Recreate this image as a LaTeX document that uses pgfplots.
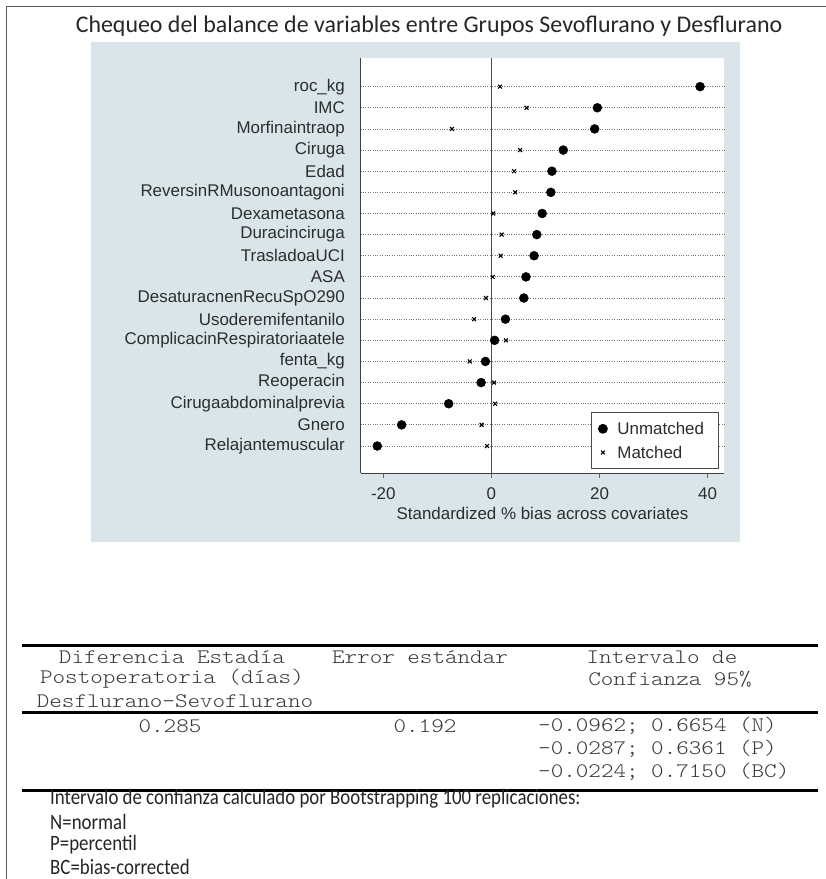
\documentclass[border=0pt]{standalone}
\usepackage{pgfplots}
\pgfplotsset{compat=1.18}
\usepackage{pgfplotstable}
\usepackage{fontspec}
\setmainfont{Liberation Sans}
\newfontfamily\carl{Carlito}
\newfontfamily\carlnarrow{Carlito}[FakeStretch=0.86]
\newfontfamily\cour{lmmonolt10-regular.otf}[FakeStretch=1.16]
\definecolor{panel}{RGB}{217,229,232}
\definecolor{txt}{RGB}{45,45,45}
\definecolor{tabtxt}{RGB}{55,55,55}

\pgfplotstableread{
k um m
1 -21.1 -0.8
2 -16.6 -1.8
3 -7.9 0.7
4 -1.9 0.5
5 -1.1 -4.0
6 0.6 2.7
7 2.6 -3.2
8 6.0 -1.0
9 6.4 0.25
10 7.9 1.7
11 8.4 1.9
12 9.4 0.35
13 11.0 4.4
14 11.2 4.2
15 13.3 5.3
16 19.1 -7.3
17 19.6 6.5
18 38.6 1.6
}\bal

\begin{document}
\begin{tikzpicture}
\useasboundingbox (0,0) rectangle (826bp,-879bp);
\fill[white] (0,0) rectangle (826bp,-879bp);
\draw[black!65, line width=1bp] (6bp,-879bp) -- (6bp,-6bp) -- (826bp,-6bp);
\node[font=\carl\fontsize{24}{28}\selectfont, text=black!85, anchor=base, inner sep=0pt] at (429bp,-32bp) {Chequeo del balance de variables entre Grupos Sevoflurano y Desflurano};
\fill[panel] (91bp,-42bp) rectangle (740bp,-542bp);
\begin{axis}[
  at={(360.7bp,-473.3bp)}, anchor=south west,
  scale only axis, width=363.6bp, height=415bp,
  xmin=-24.17, xmax=43.08, ymin=-0.291, ymax=19.34,
  axis background/.style={fill=white},
  axis x line*=bottom, axis y line*=left,
  axis line style={black!75, line width=0.8bp},
  xtick={-20,0,20,40},
  /pgf/number format/assume math mode=true,
  x tick label style={font=\fontsize{17}{20}\selectfont, text=txt, inner sep=0pt, yshift=-8.7bp},
  xtick style={black!60, line width=0.8bp},
  major tick length=5bp, tick align=outside,
  ytick={1,...,18},
  yticklabels={Relajantemuscular, Gnero, Cirugaabdominalprevia, Reoperacin, fenta\_kg, ComplicacinRespiratoriaatele, Usoderemifentanilo, DesaturacnenRecuSpO290, ASA, TrasladoaUCI, Duracinciruga, Dexametasona, ReversinRMusonoantagoni, Edad, Ciruga, Morfinaintraop, IMC, roc\_kg},
  y tick label style={font=\fontsize{17}{20}\selectfont, text=txt, inner sep=0pt, xshift=-10.7bp},
  ytick style={/pgfplots/major tick length=0pt, draw=none},
  ymajorgrids, grid style={black!55, dotted, line width=0.8bp},
  xlabel={Standardized \% bias across covariates},
  xlabel style={font=\fontsize{17}{20}\selectfont, text=txt, inner sep=0pt, anchor=center, at={(axis description cs:0.5,-0.0964)}},
  legend image code/.code={\draw[#1] plot coordinates {(0bp,0bp)};},
  legend cell align=left,
  legend style={at={(0.6334,0.147)}, anchor=north west, draw=black!70, fill=white, line width=0.8bp,
    font=\fontsize{17}{20}\selectfont, text=txt, inner xsep=7bp, inner ysep=10bp, row sep=11.5bp,
    nodes={inner sep=0pt, text height=12.2bp, text depth=0bp, text width=94bp},
    /tikz/every odd column/.append style={column sep=10bp}},
]
\draw[black!70, line width=0.8bp] (axis cs:0,-0.291) -- (axis cs:0,19.34);
\addplot[only marks, mark=*, mark size=4.5bp, black] table[x=um, y=k] {\bal};
\addlegendentry{Unmatched}
\addplot[only marks, mark=x, mark size=2.7bp, black, line width=1.1bp] table[x=m, y=k] {\bal};
\addlegendentry{Matched}
\end{axis}
% table
\draw[black, line width=3bp] (22bp,-645bp) -- (818bp,-645bp);
\draw[black, line width=3bp] (22bp,-712bp) -- (818bp,-712bp);
\draw[black, line width=3bp] (22bp,-790bp) -- (818bp,-790bp);
\begin{scope}[every node/.style={font=\cour\fontsize{20.7}{24}\selectfont, text=tabtxt, inner sep=0pt, anchor=center}]
\node at (172bp,-657bp) {Diferencia Estadía};
\node at (172bp,-679bp) {Postoperatoria (días)};
\node at (175bp,-701bp) {Desflurano-Sevoflurano};
\node at (420bp,-657bp) {Error estándar};
\node at (662bp,-657bp) {Intervalo de};
\node at (670bp,-679bp) {Confianza 95\%};
\node at (170bp,-726bp) {0.285};
\node at (425bp,-726bp) {0.192};
\node[anchor=west] at (538bp,-726bp) {-0.0962; 0.6654 (N)};
\node[anchor=west] at (538bp,-749bp) {-0.0287; 0.6361 (P)};
\node[anchor=west] at (538bp,-772bp) {-0.0224; 0.7150 (BC)};
\end{scope}
\begin{scope}[every node/.style={font=\carlnarrow\fontsize{22}{26}\selectfont, text=black!85, inner sep=0pt, anchor=west}]
\node at (50bp,-799bp) {Intervalo de confianza calculado por Bootstrapping 100 replicaciones:};
\node at (50bp,-822bp) {N=normal};
\node at (50bp,-845bp) {P=percentil};
\node at (50bp,-867bp) {BC=bias-corrected};
\end{scope}
\end{tikzpicture}
\end{document}
